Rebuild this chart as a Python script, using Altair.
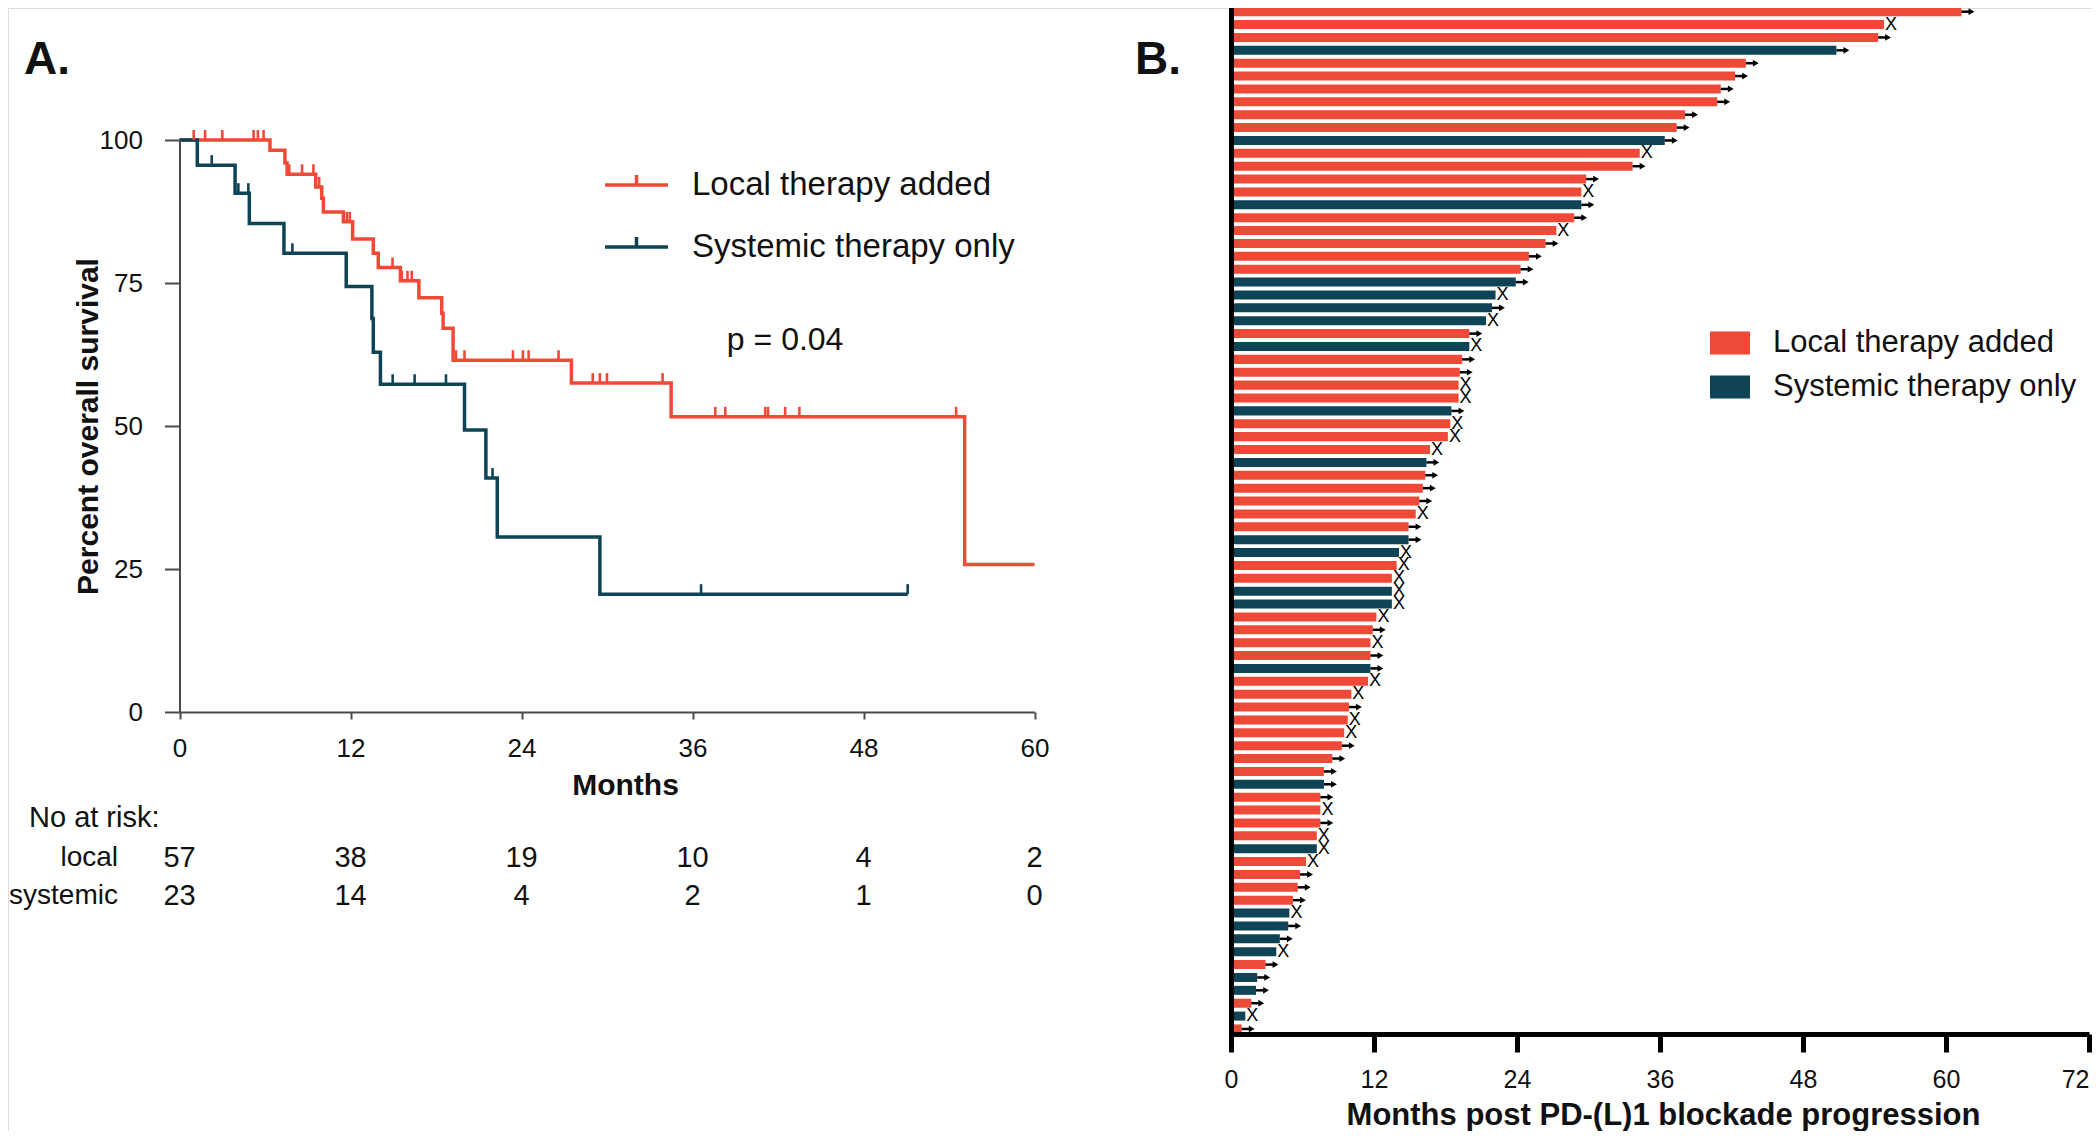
import altair as alt
import pandas as pd

FONT = "Liberation Sans"
RED = "#EF4A38"
TEAL = "#0E4456"
AX = "#4a4a4a"
INK = "#111111"
GROUPS = ["Local therapy added", "Systemic therapy only"]
GROUP_CODES = ["L", "S"]
W, H = 2084, 1123

# ---------------- Panel A: Kaplan-Meier ----------------
local_months = [0, 6.35, 7.4, 7.55, 9.56, 9.98, 10.1, 11.5, 12.15, 13.6, 13.95, 15.5,
                16.8, 18.4, 18.5, 19.2, 27.5, 34.5, 55.1, 60.0]
local_surv = [100, 98.2, 96.0, 94.0, 91.8, 89.8, 87.4, 85.7, 82.7, 80.2, 77.7, 75.4,
              72.4, 69.7, 67.1, 61.5, 57.5, 51.6, 25.8, 25.8]
systemic_months = [0, 1.25, 3.9, 4.9, 7.33, 11.7, 13.5, 13.6, 14.1, 20.0, 21.5, 22.3, 29.5, 51.1]
systemic_surv = [100, 95.6, 90.7, 85.4, 80.2, 74.4, 68.8, 62.9, 57.3, 49.3, 40.9, 30.6, 20.6, 20.6]

local_cens_months = [1.0, 1.8, 3.0, 5.2, 5.5, 5.9, 7.7, 8.6, 9.4, 9.8, 11.75, 11.95, 14.95,
                     15.6, 16.0, 16.3, 19.4, 20.0, 23.4, 24.1, 24.5, 26.6, 29.0, 29.5, 30.0,
                     33.9, 37.6, 38.3, 41.1, 41.3, 42.5, 43.5, 54.5]
local_cens_surv = [100, 100, 100, 100, 100, 100, 94.0, 94.0, 94.0, 91.8, 85.7, 85.7, 77.7,
                   75.4, 75.4, 75.4, 61.5, 61.5, 61.5, 61.5, 61.5, 61.5, 57.5, 57.5, 57.5,
                   57.5, 51.6, 51.6, 51.6, 51.6, 51.6, 51.6, 51.6]
systemic_cens_months = [2.26, 4.13, 4.83, 7.92, 14.96, 16.5, 18.7, 21.97, 36.6, 51.1]
systemic_cens_surv = [95.6, 90.7, 90.7, 80.2, 57.3, 57.3, 57.3, 40.9, 20.6, 20.6]

km_month_ticks = [0, 12, 24, 36, 48, 60]
km_surv_ticks = [0, 25, 50, 75, 100]
risk_months = [0, 12, 24, 36, 48, 60]
risk_local = [57, 38, 19, 10, 4, 2]
risk_systemic = [23, 14, 4, 2, 1, 0]
risk_rows = ["local", "systemic"]
p_value_label = "p = 0.04"
p_value_pos = [42.5, 65.0]

# ---------------- Panel B: swimmer plot ----------------
swim_months = [61.3, 54.8, 54.3, 50.8, 43.2, 42.3, 41.1, 40.8, 38.1, 37.4,
               36.4, 34.3, 33.7, 29.8, 29.4, 29.4, 28.8, 27.3, 26.4, 25.0,
               24.3, 23.9, 22.2, 21.9, 21.4, 20.0, 20.0, 19.4, 19.2, 19.1,
               19.1, 18.5, 18.4, 18.2, 16.7, 16.4, 16.3, 16.1, 15.8, 15.5,
               14.9, 14.9, 14.1, 13.9, 13.5, 13.5, 13.5, 12.2, 11.9, 11.7,
               11.7, 11.7, 11.5, 10.1, 9.9, 9.8, 9.5, 9.3, 8.5, 7.8,
               7.8, 7.5, 7.5, 7.5, 7.2, 7.2, 6.3, 5.8, 5.6, 5.2,
               4.9, 4.8, 4.1, 3.8, 2.9, 2.2, 2.1, 1.7, 1.2, 0.9]
swim_group = ["L", "L", "L", "S", "L", "L", "L", "L", "L", "L",
              "S", "L", "L", "L", "L", "S", "L", "L", "L", "L",
              "L", "S", "S", "S", "S", "L", "S", "L", "L", "L",
              "L", "S", "L", "L", "L", "S", "L", "L", "L", "L",
              "L", "S", "S", "L", "L", "S", "S", "L", "L", "L",
              "L", "S", "L", "L", "L", "L", "L", "L", "L", "L",
              "S", "L", "L", "L", "L", "S", "L", "L", "L", "L",
              "S", "S", "S", "S", "L", "S", "S", "L", "S", "L"]
swim_end = ["A", "X", "A", "A", "A", "A", "A", "A", "A", "A",
            "A", "X", "A", "A", "X", "A", "A", "X", "A", "A",
            "A", "A", "X", "A", "X", "A", "X", "A", "A", "X",
            "X", "A", "X", "X", "X", "A", "A", "A", "A", "X",
            "A", "A", "X", "X", "X", "X", "X", "X", "A", "X",
            "A", "A", "X", "X", "A", "X", "X", "A", "A", "A",
            "A", "A", "X", "A", "X", "X", "X", "A", "A", "A",
            "X", "A", "A", "X", "A", "A", "A", "A", "X", "A"]
swim_month_ticks = [0, 12, 24, 36, 48, 60, 72]

# ---------------- tables ----------------
km_df = pd.DataFrame(
    [{"month": t, "surv": s, "group": GROUPS[0]} for t, s in zip(local_months, local_surv)]
    + [{"month": t, "surv": s, "group": GROUPS[1]} for t, s in zip(systemic_months, systemic_surv)]
)
cens_df = pd.DataFrame(
    [{"month": t, "surv": s, "group": GROUPS[0]} for t, s in zip(local_cens_months, local_cens_surv)]
    + [{"month": t, "surv": s, "group": GROUPS[1]} for t, s in zip(systemic_cens_months, systemic_cens_surv)]
)
risk_df = pd.DataFrame(
    [{"month": m, "n": n, "row": "local"} for m, n in zip(risk_months, risk_local)]
    + [{"month": m, "n": n, "row": "systemic"} for m, n in zip(risk_months, risk_systemic)]
)
rowlab_df = pd.DataFrame({"row": risk_rows})
swim_df = pd.DataFrame({
    "row": list(range(1, len(swim_months) + 1)),
    "months": swim_months,
    "code": swim_group,
    "end": swim_end,
})
row_ids = list(swim_df["row"])

# ---------------- scales ----------------
kmX = alt.Scale(domain=[0, 60], range=[171.5, 1026.5], nice=False, zero=False)
kmY = alt.Scale(domain=[0, 100], range=[704, 132], nice=False, zero=False)
riskY = alt.Scale(type="point", domain=risk_rows, range=[850, 888], padding=0)
swX = alt.Scale(domain=[0, 72], range=[1223, 2081], nice=False)
swY = alt.Scale(domain=row_ids, range=[-2.74, 1027.4], paddingInner=0.3, paddingOuter=0.15)
strokeScale = alt.Scale(domain=GROUPS, range=[RED, TEAL])
fillScale = alt.Scale(domain=GROUP_CODES, range=[RED, TEAL])

left_legend = alt.Legend(
    title=None, orient="none", legendX=595, legendY=157, padding=0,
    symbolType="M-1,0H1M0,0V-0.32", symbolSize=3969, symbolStrokeWidth=3.5,
    symbolFillColor="transparent",
    labelFontSize=33, labelFont=FONT, labelColor=INK, labelOffset=22, labelLimit=0,
    clipHeight=40, rowPadding=22,
)
right_legend = alt.Legend(
    title=None, orient="none", legendX=1702, legendY=320, padding=0,
    symbolType="M-1,-0.575H1V0.575H-1Z", symbolSize=1600, symbolStrokeWidth=0,
    symbolOpacity=1,
    labelExpr=f"datum.value == 'L' ? '{GROUPS[0]}' : '{GROUPS[1]}'",
    labelFontSize=31, labelFont=FONT, labelColor=INK, labelOffset=23, labelLimit=0,
    clipHeight=30, rowPadding=13,
)

km_x_axis = alt.Axis(
    orient="bottom", offset=-419, values=km_month_ticks, grid=False,
    tickSize=7, tickWidth=2, tickColor=AX, domainColor=AX, domainWidth=2,
    labelFontSize=26, labelFont=FONT, labelColor=INK, labelPadding=16, labelFlush=False,
    title="Months", titleFontSize=30, titleFont=FONT, titleFontWeight="bold", titleColor=INK,
    titleX=617, titleY=73, titleBaseline="middle", titleAlign="center",
)
km_y_axis = alt.Axis(
    orient="left", offset=-171.5, values=km_surv_ticks, grid=False,
    tickSize=15, tickWidth=2, tickColor=AX, domainColor=AX, domainWidth=2,
    labelFontSize=26, labelFont=FONT, labelColor=INK, labelPadding=22, labelFlush=False,
    title="Percent overall survival", titleFontSize=30, titleFont=FONT, titleFontWeight="bold",
    titleColor=INK, titleX=-76, titleAngle=270, titleBaseline="bottom", titleAlign="center",
)
sw_x_axis = alt.Axis(
    orient="bottom", offset=-97, values=swim_month_ticks, grid=False,
    tickSize=18, tickWidth=5, tickColor="black", domainColor="black", domainWidth=5,
    labelFontSize=25, labelFont=FONT, labelColor=INK, labelPadding=15, labelFlush=False,
    labelAlign={"condition": {"test": "datum.value >= 72", "value": "right"}, "value": "center"},
    title="Months post PD-(L)1 blockade progression", titleFontSize=31, titleFont=FONT,
    titleFontWeight="bold", titleColor=INK, titleX=1655, titleY=81,
    titleBaseline="middle", titleAlign="center", zindex=1,
)
sw_y_axis = alt.Axis(
    orient="left", offset=-1223, ticks=False, labels=False, grid=False,
    domainColor="black", domainWidth=5, title=None, zindex=1,
)

# ---------------- Panel A layers ----------------
km_lines = alt.Chart(km_df).mark_line(interpolate="step-after", strokeWidth=3.5).encode(
    x=alt.X("month:Q", scale=kmX, axis=km_x_axis),
    y=alt.Y("surv:Q", scale=kmY, axis=km_y_axis),
    stroke=alt.Stroke("group:N", scale=strokeScale, legend=left_legend),
    detail="group:N",
)
km_cens = alt.Chart(cens_df).mark_rule(strokeWidth=2.6, y2Offset=-10).encode(
    x=alt.X("month:Q", scale=kmX, axis=None),
    y=alt.Y("surv:Q", scale=kmY, axis=None),
    y2=alt.Y2("surv:Q"),
    stroke=alt.Stroke("group:N", scale=strokeScale, legend=left_legend),
)
p_text = alt.Chart(pd.DataFrame({"label": [p_value_label]})).mark_text(
    font=FONT, fontSize=32, color=INK, align="center", baseline="middle"
).encode(
    x=alt.XDatum(p_value_pos[0], scale=kmX, axis=None),
    y=alt.YDatum(p_value_pos[1], scale=kmY, axis=None),
    text="label:N",
)
risk_nums = alt.Chart(risk_df).mark_text(
    font=FONT, fontSize=29, color=INK, align="center", baseline="middle"
).encode(
    x=alt.X("month:Q", scale=kmX, axis=None),
    y=alt.Y("row:N", scale=riskY, axis=None),
    text="n:Q",
)
risk_labels = alt.Chart(rowlab_df).mark_text(
    font=FONT, fontSize=28, color=INK, align="right", baseline="middle"
).encode(
    x=alt.value(110),
    y=alt.Y("row:N", scale=riskY, axis=None),
    text="row:N",
)
risk_title = alt.Chart(pd.DataFrame({"t": ["No at risk:"]})).mark_text(
    font=FONT, fontSize=29, color=INK, align="left", baseline="middle"
).encode(x=alt.value(21), y=alt.value(810), text="t:N")
label_a = alt.Chart(pd.DataFrame({"t": ["A."]})).mark_text(
    font=FONT, fontSize=46, fontWeight="bold", color=INK, align="center", baseline="middle"
).encode(x=alt.value(39), y=alt.value(52), text="t:N")

# ---------------- Panel B layers ----------------
bars = alt.Chart(swim_df).mark_bar().encode(
    x=alt.X("months:Q", scale=swX, axis=sw_x_axis),
    y=alt.Y("row:O", scale=swY, axis=sw_y_axis),
    fill=alt.Fill("code:N", scale=fillScale, legend=right_legend),
)
arrow_shaft = alt.Chart(swim_df).transform_filter(alt.datum.end == "A").mark_rule(
    color="black", strokeWidth=2.5, x2Offset=8
).encode(
    x=alt.X("months:Q", scale=swX, axis=None),
    x2=alt.X2("months:Q"),
    y=alt.Y("row:O", scale=swY, axis=None),
)
arrow_head = alt.Chart(swim_df).transform_filter(alt.datum.end == "A").mark_point(
    shape="triangle-right", filled=True, size=45, color="black", opacity=1, xOffset=10
).encode(
    x=alt.X("months:Q", scale=swX, axis=None),
    y=alt.Y("row:O", scale=swY, axis=None),
)
x_marks = alt.Chart(swim_df).transform_filter(alt.datum.end == "X").mark_text(
    text="X", font=FONT, fontSize=18, color="black", align="left", baseline="middle", dx=1
).encode(
    x=alt.X("months:Q", scale=swX, axis=None),
    y=alt.Y("row:O", scale=swY, axis=None),
)
label_b = alt.Chart(pd.DataFrame({"t": ["B."]})).mark_text(
    font=FONT, fontSize=46, fontWeight="bold", color=INK, align="center", baseline="middle"
).encode(x=alt.value(1150), y=alt.value(52), text="t:N")

chart = alt.layer(
    km_lines, km_cens, p_text, risk_nums, risk_labels, risk_title, label_a,
    bars, arrow_shaft, arrow_head, x_marks, label_b,
).resolve_scale(
    x="independent", y="independent"
).properties(
    width=W, height=H,
    autosize=alt.AutoSizeParams(type="none"),
    padding=0,
).configure_view(stroke=None).configure(font=FONT, background="white")

chart.save("out.html", embed_options={"renderer": "svg", "actions": False})
